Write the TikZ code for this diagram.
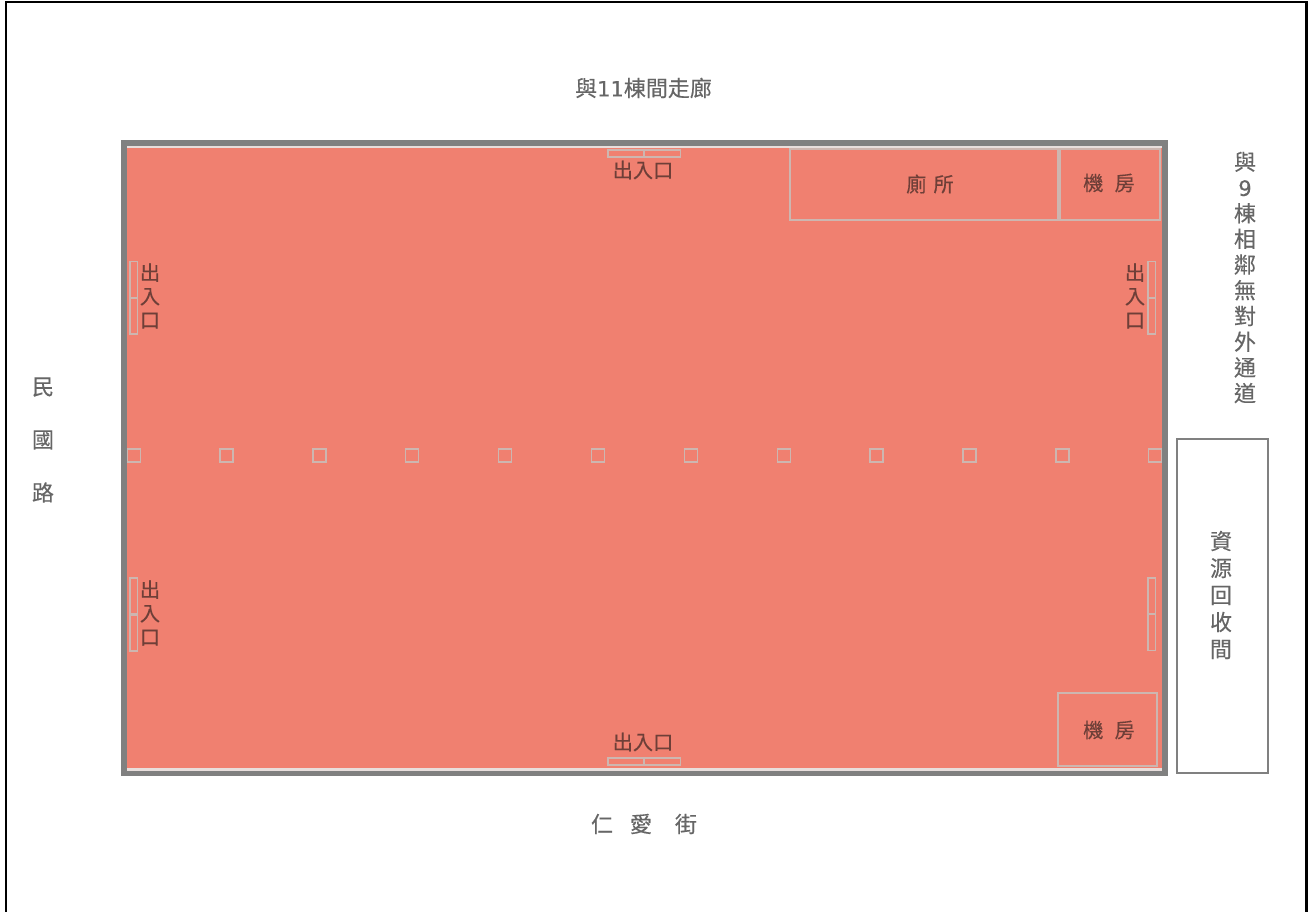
\documentclass[tikz,border=0pt]{standalone}
\usepackage{fontspec}
\newfontfamily\cjk{Noto Sans CJK TC}[FakeBold=0.25]
\newfontfamily\latinpart{DejaVu Sans}[FakeBold=0.5]
\definecolor{wallgrey}{HTML}{808080}
\definecolor{roomfill}{HTML}{F08070}
\definecolor{linegrey}{HTML}{CDB6B0}
\definecolor{paleline}{HTML}{E8DEDC}
\definecolor{txtout}{HTML}{666666}
\definecolor{txtin}{HTML}{6E3F38}
\tikzset{
  wall/.style={draw=wallgrey,line width=5.5pt,fill=roomfill},
  partition/.style={draw=linegrey,line width=2pt},
  doorleaf/.style={draw=linegrey,line width=1.8pt},
  pillar/.style={draw=linegrey,line width=1.8pt},
  outer/.style={text=txtout,font=\cjk\fontsize{22}{22}\selectfont,inner sep=0pt,align=center},
  inner/.style={text=txtin,font=\cjk\fontsize{20.2}{20.2}\selectfont,inner sep=0pt,align=center},
}
\begin{document}
\begin{tikzpicture}[x=1pt,y=-1pt]
\useasboundingbox (0,0) rectangle (1309,912);
\fill[white] (0,0) rectangle (1309,912);
% frame
\draw[black,line width=2.2pt] (6,925) -- (6,2) -- (1306.5,2) -- (1306.5,925);
% hall
\draw[wall] (124,143) rectangle (1165,773);
\draw[paleline,line width=2.4pt] (127,147) -- (1162,147);
\draw[paleline,line width=2.2pt] (127,769.4) -- (1162,769.4);
% rooms
\draw[partition] (790,149) rectangle (1059,220);
\draw[partition] (1059,149) rectangle (1160,220);
\draw[partition,line width=4pt] (1059,149) -- (1059,221);
\draw[partition,line width=1.8pt] (1058,693) rectangle (1157,766);
% recycling room
\draw[draw=wallgrey,fill=white,line width=1.5pt] (1177,439) rectangle (1268,773);
% doors
\foreach \x in {608,644}{\draw[doorleaf] (\x,150) rectangle ++(36.5,7);}
\foreach \x in {608,644}{\draw[doorleaf] (\x,758) rectangle ++(36.5,7);}
\foreach \y in {261.5,298}{\draw[doorleaf] (130,\y) rectangle ++(7.5,36);}
\foreach \y in {578,615}{\draw[doorleaf] (130,\y) rectangle ++(7.5,36);}
\foreach \y in {261.5,298}{\draw[doorleaf] (1148,\y) rectangle ++(7.5,36);}
\foreach \y in {578,614}{\draw[doorleaf] (1148,\y) rectangle ++(7.5,36.5);}
% pillars
\foreach \x in {134,226.5,319.5,412,505,598,691,784,876.5,969.5,1062.5,1155}{
  \draw[pillar] (\x-6.5,449) rectangle (\x+6.5,462);}
% labels outside
\node[outer] (north) at (643.5,88) {與{\latinpart\fontsize{21}{21}\selectfont 11}棟間走廊};
\node[outer] (south) at (644,824) {仁\hspace{17pt}愛\hspace{23pt}街};
\node[outer] (west) at (43,440) {民\\[31pt]國\\[31pt]路};
\node[outer] (east) at (1245,277.5) {與\\[3.7pt]{\latinpart\fontsize{21}{21}\selectfont 9}\\[3.7pt]棟\\[3.7pt]相\\[3.7pt]鄰\\[3.7pt]無\\[3.7pt]對\\[3.7pt]外\\[3.7pt]通\\[3.7pt]道};
\node[outer] (recycle) at (1221,595) {資\\[5pt]源\\[5pt]回\\[5pt]收\\[5pt]間};
% labels inside
\node[inner] (d1) at (643,170) {出入口};
\node[inner] (d2) at (643,742) {出入口};
\node[inner] (d3) at (150,296) {出\\[3.5pt]入\\[3.5pt]口};
\node[inner] (d4) at (150,613) {出\\[3.5pt]入\\[3.5pt]口};
\node[inner] (d5) at (1135,296) {出\\[3.5pt]入\\[3.5pt]口};
\node[inner] (r1) at (930,184) {廁\hspace{0.35em}所};
\node[inner] (r2) at (1109,183) {機\hspace{0.55em}房};
\node[inner] (r3) at (1109,730) {機\hspace{0.55em}房};
\end{tikzpicture}
\end{document}
